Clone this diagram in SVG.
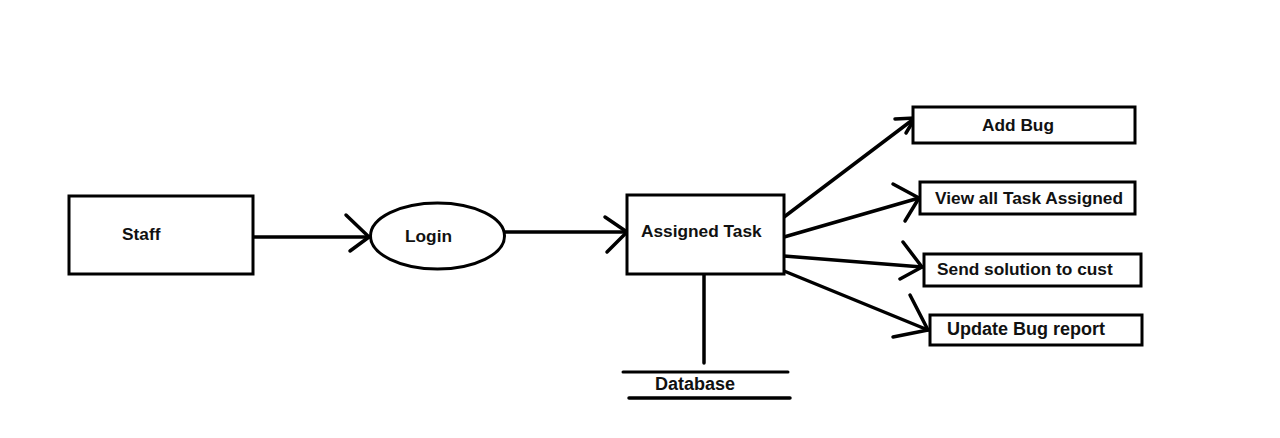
<svg xmlns="http://www.w3.org/2000/svg" width="1280" height="438" viewBox="0 0 1280 438">
<style>
.box{fill:#fff;stroke:#000;stroke-width:3}
.ln{fill:none;stroke:#000;stroke-width:3.5;stroke-linecap:round;stroke-linejoin:round}
.t{font-family:"Liberation Sans",Arial,sans-serif;font-weight:bold;font-size:17.3px;fill:#111}
.big{font-size:18px}
</style>
<rect width="1280" height="438" fill="#fff"/>
<g id="connectors">
<line class="ln" x1="253" y1="237" x2="369" y2="237"/>
<polyline class="ln" points="346,215 369,237 350,251"/>
<line class="ln" x1="505" y1="232" x2="627" y2="232"/>
<polyline class="ln" points="605,217 627,232 607,252"/>
<line class="ln" x1="784" y1="217" x2="915" y2="118"/>
<polyline class="ln" points="895,119 915,118 906,133"/>
<line class="ln" x1="784" y1="237" x2="919" y2="198"/>
<polyline class="ln" points="893,184 919,198 905,221"/>
<line class="ln" x1="784" y1="256" x2="922" y2="267"/>
<polyline class="ln" points="903,242 922,267 900,279"/>
<line class="ln" x1="784" y1="271" x2="928" y2="330"/>
<polyline class="ln" points="910,295 928,330 893,337"/>
<line class="ln" x1="704" y1="274" x2="704" y2="363"/>
</g>
<g id="staff">
<rect class="box" x="69" y="196" width="184" height="78"/>
<text class="t" x="122" y="240">Staff</text>
</g>
<g id="login">
<ellipse class="box" cx="437.5" cy="236" rx="67" ry="33"/>
<text class="t" x="405" y="242">Login</text>
</g>
<g id="assigned">
<rect class="box" x="627" y="195" width="157" height="79"/>
<text class="t" x="641" y="237">Assigned Task</text>
</g>
<g id="addbug">
<rect class="box" x="913" y="107" width="222" height="36"/>
<text class="t" x="982" y="131">Add Bug</text>
</g>
<g id="viewall">
<rect class="box" x="920" y="182" width="215" height="32"/>
<text class="t" x="935" y="204">View all Task Assigned</text>
</g>
<g id="send">
<rect class="box" x="924" y="254" width="217" height="32"/>
<text class="t" x="937" y="275">Send solution to cust</text>
</g>
<g id="update">
<rect class="box" x="930" y="315" width="212" height="30"/>
<text class="t big" x="947" y="335">Update Bug report</text>
</g>
<g id="database">
<line class="ln" x1="623" y1="372" x2="788" y2="372" style="stroke-width:3"/>
<line class="ln" x1="629" y1="398" x2="790" y2="398"/>
<text class="t big" x="655" y="390">Database</text>
</g>
</svg>
